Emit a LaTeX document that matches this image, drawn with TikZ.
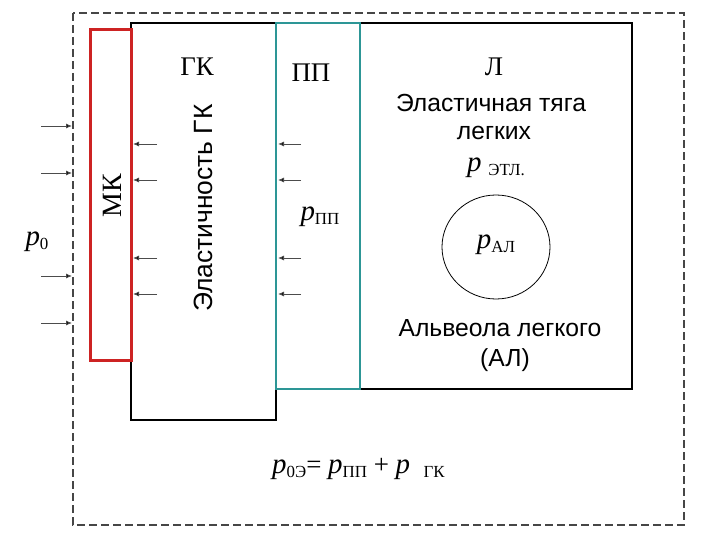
\documentclass[tikz,border=0pt]{standalone}
\usepackage{fontspec}
\setmainfont{Liberation Serif}
\newfontfamily\sansf{Liberation Sans}
\usetikzlibrary{arrows.meta,shapes.geometric}
\definecolor{mkred}{RGB}{205,35,35}
\definecolor{ppteal}{RGB}{45,150,150}
\definecolor{dashgray}{RGB}{70,70,70}
\newcommand{\lowtxt}[1]{\raisebox{-0.3ex}{\fontsize{17}{17}\selectfont #1}}
\newcommand{\pit}{{\fontsize{29}{30}\selectfont\itshape p}}
\begin{document}
\begin{tikzpicture}[x=1bp,y=-1bp,
  frame/.style={draw=black,line width=2bp},
  ppframe/.style={draw=ppteal,line width=2.5bp},
  mkframe/.style={draw=mkred,line width=3bp},
  outer/.style={draw=dashgray,line width=1.6bp,dash pattern=on 8bp off 4bp},
  parr/.style={draw=black!70,line width=0.9bp,-{Latex[length=6bp,width=5bp,fill=black]}},
  serif/.style={font=\fontsize{27}{30}\selectfont},
  sans/.style={font=\sansf\fontsize{24.8}{30}\selectfont,align=center},
  inner sep=0pt]
\useasboundingbox (0,0) rectangle (720,540);
% outer dashed boundary
\draw[outer] (73,13) rectangle (684,525);
% boxes
\draw[frame] (131,23) rectangle (276,420);
\draw[frame] (276,23) rectangle (632,389);
\draw[ppframe] (276,23) rectangle (360,389);
\draw[mkframe] (90,30) rectangle (131,360);
% alveole
\node[draw=black,line width=0.8bp,ellipse,minimum width=108bp,minimum height=104bp] (al) at (496,247) {};
% texts
\node[serif] (gk) at (197,67) {ГК};
\node[sans,rotate=90,font=\sansf\fontsize{26.5}{30}\selectfont] (elgk) at (203,208) {Эластичность ГК};
\node[serif,rotate=90,font=\fontsize{28}{30}\selectfont] (mk) at (112,196) {МК};
\node[serif] (pp) at (311,73) {ПП};
\node[serif] (l) at (494,67) {Л};
\node[sans] (elt) at (491,103) {Эластичная тяга};
\node[sans] (leg) at (494,133) {легких};
\node[serif,anchor=west] (petl) at (467,168) {\pit\ \lowtxt{ЭТЛ.}};
\node[serif] (ppp) at (320,217) {\pit\lowtxt{ПП}};
\node[serif] (pal) at (496,245) {\pit\lowtxt{АЛ}};
\node[sans] (alv) at (500,328) {Альвеола легкого};
\node[sans] (alab) at (505,360) {(АЛ)};
\node[serif] (p0) at (37,242) {\pit\lowtxt{0}};
\node[serif,anchor=west] (formula) at (272,469) {\pit\lowtxt{0Э}= \pit\lowtxt{ПП} + \pit\ \ \lowtxt{ГК}};
% pressure arrows
\foreach \y [count=\i] in {126,173,276,323} {
  \coordinate (os\i) at (41,\y);
  \coordinate (oe\i) at (72,\y);
  \draw[parr] (os\i) -- (oe\i);
}
\foreach \y [count=\i] in {144,180,258,294} {
  \coordinate (gs\i) at (157,\y);
  \coordinate (ge\i) at (133,\y);
  \draw[parr] (gs\i) -- (ge\i);
  \coordinate (ps\i) at (301,\y);
  \coordinate (pe\i) at (278,\y);
  \draw[parr] (ps\i) -- (pe\i);
}
\end{tikzpicture}
\end{document}
